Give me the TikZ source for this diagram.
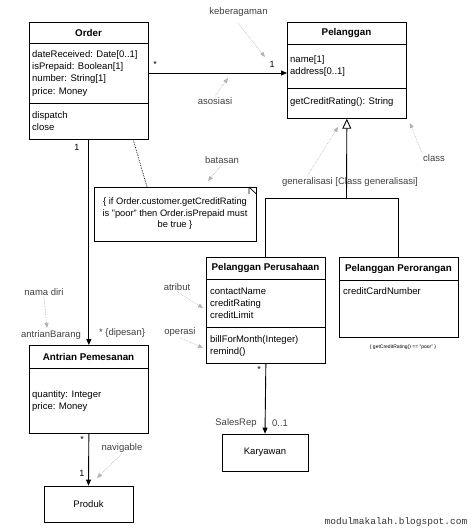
\documentclass[tikz,border=0pt]{standalone}
\usepackage{fontspec}
\setmainfont{Liberation Sans}
\newfontfamily\markfont{Liberation Mono}
\usepackage{tikz}
\usetikzlibrary{arrows.meta, positioning}

\tikzset{
  box/.style={draw, line width=0.7pt, inner sep=0pt},
  sep/.style={line width=0.7pt},
  title/.style={font=\bfseries\fontsize{9.8}{12}\selectfont, inner sep=0pt},
  member/.style={font=\fontsize{9.5}{12.2}\selectfont, align=left, anchor=north west, inner sep=0pt},
  tag/.style={font=\fontsize{9.5}{12}\selectfont, text=black!75, inner sep=1pt},
  mult/.style={font=\fontsize{9}{12}\selectfont, inner sep=0pt},
  assoc/.style={line width=0.9pt, -{Triangle[length=6pt,width=5pt]}},
  hint/.style={draw=black!30, densely dotted, line width=0.6pt, -{Triangle[length=5pt,width=4pt]}}
}

\begin{document}
\begin{tikzpicture}[x=1pt,y=-1pt]
  \useasboundingbox (0,0) rectangle (474,532);

  % Order
  \node[box, minimum width=119pt, minimum height=117pt, anchor=north west] (order) at (29,22) {};
  \node[title] (ordertitle) at (88.5,32.5) {Order};
  \draw[sep] (order.west |- 0,43) -- (order.east |- 0,43);
  \draw[sep] (order.west |- 0,103) -- (order.east |- 0,103);
  \node[member] (orderattr) at (32,50.5) {dateReceived: Date[0..1]\\isPrepaid: Boolean[1]\\number: String[1]\\price: Money};
  \node[member] (orderops) at (32,111.5) {dispatch\\close};

  % Pelanggan
  \node[box, minimum width=119pt, minimum height=96pt, anchor=north west] (pelanggan) at (287,22) {};
  \node[title] (pelanggantitle) at (346.5,33) {Pelanggan};
  \draw[sep] (pelanggan.west |- 0,44) -- (pelanggan.east |- 0,44);
  \draw[sep] (pelanggan.west |- 0,88) -- (pelanggan.east |- 0,88);
  \node[member] (pelangganattr) at (290,55.5) {name[1]\\address[0..1]};
  \node[member] (pelangganops) at (290,97.5) {getCreditRating(): String};

  % Pelanggan Perusahaan
  \node[box, minimum width=119pt, minimum height=106pt, anchor=north west] (perusahaan) at (206,257) {};
  \node[title] (perusahaantitle) at (265.5,268) {Pelanggan Perusahaan};
  \draw[sep] (perusahaan.west |- 0,279) -- (perusahaan.east |- 0,279);
  \draw[sep] (perusahaan.west |- 0,327) -- (perusahaan.east |- 0,327);
  \node[member] (perusahaanattr) at (210,287.5) {contactName\\creditRating\\creditLimit};
  \node[member] (perusahaanops) at (210,335.5) {billForMonth(Integer)\\remind()};

  % Pelanggan Perorangan
  \node[box, minimum width=119pt, minimum height=80pt, anchor=north west] (perorangan) at (339,257) {};
  \node[title] (peroranganttitle) at (398.5,268.5) {Pelanggan Perorangan};
  \draw[sep] (perorangan.west |- 0,280) -- (perorangan.east |- 0,280);
  \node[member] (peroranganattr) at (343,287.5) {creditCardNumber};
  \node[font=\fontsize{5}{6}\selectfont, inner sep=0pt] (perorangancond) at (403,347) {\{ getCreditRating() == "poor" \}};

  % Antrian Pemesanan
  \node[box, minimum width=119pt, minimum height=88pt, anchor=north west] (antrian) at (29,345) {};
  \node[title] (antriantitle) at (88.5,356.5) {Antrian Pemesanan};
  \draw[sep] (antrian.west |- 0,368) -- (antrian.east |- 0,368);
  \node[member] (antrianattr) at (32,390.5) {quantity: Integer\\price: Money};

  % Karyawan, Produk
  \node[box, minimum width=86pt, minimum height=37pt, font=\fontsize{9.5}{12}\selectfont] (karyawan) at (265,452.5) {Karyawan};
  \node[box, minimum width=89pt, minimum height=36pt, font=\fontsize{9.5}{12}\selectfont] (produk) at (88.5,504) {Produk};

  % batasan
  \node[box, minimum width=162pt, minimum height=54pt, font=\fontsize{9.3}{11.5}\selectfont, align=center] (note) at (175,214)
    {\{ if Order.customer.getCreditRating\\is "poor" then Order.isPrepaid must\\be true \}};
  \draw[sep] (249,187) -- (249,194) (249,187) -- (note.north east |- 0,194);
  \coordinate (notefrom) at (133,139);
  \coordinate (noteto) at (147,187);
  \draw[densely dotted, line width=0.7pt] (notefrom) -- (noteto);

  % asosiasi
  \coordinate (asocy) at (0,73);
  \draw[assoc] (order.east |- asocy) -- (pelanggan.west |- asocy);
  \node[mult] (m1) at (155,64) {*};
  \node[mult] (m2) at (272,64) {1};
  \draw[assoc] (order.south) -- (antrian.north);
  \node[mult] (m3) at (77,147) {1};
  \draw[assoc] (perusahaan.south) -- (karyawan.north);
  \node[mult] (m4) at (259,369) {*};
  \draw[assoc] (antrian.south) -- (produk.north);
  \node[mult] (m5) at (82,439) {*};
  \node[mult] (m6) at (82,473) {1};

  % generalisasi
  \coordinate (genbar) at (346.5,198);
  \draw[line width=0.9pt] (perusahaan.north) |- (perorangan.north |- genbar) -- (perorangan.north);
  \draw[line width=0.9pt, -{Triangle[open, length=10pt, width=9pt, fill=white]}] (genbar) -- (pelanggan.south);

  % keterangan
  \node[tag] (keb) at (238.5,12) {keberagaman};
  \node[tag] (asos) at (215,101) {asosiasi};
  \node[tag] (bat) at (222,160) {batasan};
  \node[tag] (cls) at (434,158) {class};
  \node[tag] (gen) at (350,182) {generalisasi [Class generalisasi]};
  \node[tag] (nama) at (44,292) {nama diri};
  \node[tag] (antrianbarang) at (51,335) {antrianBarang};
  \node[tag] (dipesan) at (122,333) {* \{dipesan\}};
  \node[tag] (atr) at (177,287) {atribut};
  \node[tag] (ops) at (180,332) {operasi};
  \node[tag] (nav) at (122,448) {navigable};
  \node[tag] (salesrep) at (236,423) {SalesRep};
  \node[tag] (nol) at (280,423) {0..1};

  \coordinate (kebto) at (265,57);
  \coordinate (asosto) at (228,78);
  \coordinate (batto) at (208,181);
  \coordinate (clsto) at (410,123);
  \coordinate (gento) at (338,127);
  \coordinate (namato) at (47,328);
  \coordinate (atrto) at (203,308);
  \coordinate (opsto) at (203,348);
  \coordinate (navto) at (97,478);
  \draw[hint] ([yshift=-6pt]keb.south) -- (kebto);
  \draw[hint] (asos.north) -- (asosto);
  \draw[hint] (bat.south) -- (batto);
  \draw[hint] (cls.north west) -- (clsto);
  \draw[hint] (gen.north -| 307,0) -- (gento);
  \draw[hint] (nama.south) -- (namato);
  \draw[hint] (atr.south) -- (atrto);
  \draw[hint] (ops.south) -- (opsto);
  \draw[hint] (nav.south) -- (navto);

  \node[font=\markfont\fontsize{9.5}{11}\selectfont, text=black!80, inner sep=0pt] (mark) at (396,522) {modulmakalah.blogspot.com};
\end{tikzpicture}
\end{document}
